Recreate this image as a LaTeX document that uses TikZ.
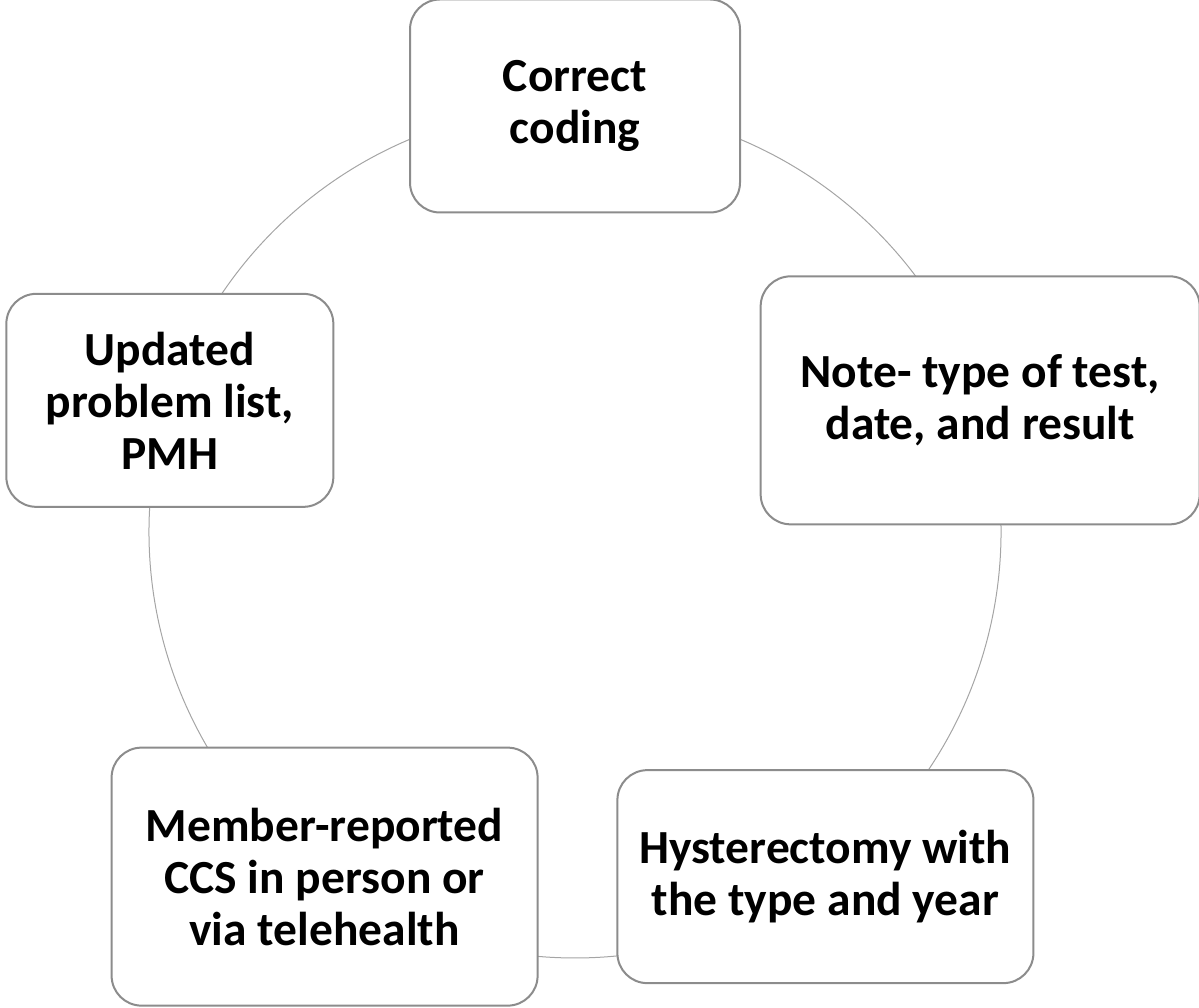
\documentclass[tikz,border=0pt]{standalone}
\usepackage{fontspec}
\setmainfont{Carlito}
\usetikzlibrary{calc}
\definecolor{boxgray}{RGB}{140,140,140}
\definecolor{arcgray}{RGB}{165,165,165}
\begin{document}
\begin{tikzpicture}[x=1pt,y=1pt,
  cyclebox/.style={draw=boxgray, line width=2pt, fill=white, rounded corners=30pt,
    inner sep=0pt, align=center, font=\fontsize{47.5}{52}\selectfont\bfseries},
  arcline/.style={draw=arcgray, line width=1pt}]
\useasboundingbox (0,0) rectangle (1199,1008);
\coordinate (ctr) at (575,476);
\coordinate (p1) at ($(ctr)+(90:426pt)$);
\coordinate (p2) at ($(ctr)+(18:426pt)$);
\coordinate (p3) at ($(ctr)+(-54:426pt)$);
\coordinate (p4) at ($(ctr)+(-126:426pt)$);
\coordinate (p5) at ($(ctr)+(162:426pt)$);
% connectors (arcs of the cycle)
\draw[arcline] (p1) arc[start angle=90, end angle=18, radius=426pt];
\draw[arcline] (p2) arc[start angle=18, end angle=-54, radius=426pt];
\draw[arcline] (p3) arc[start angle=-54, end angle=-126, radius=426pt];
\draw[arcline] (p4) arc[start angle=-126, end angle=-198, radius=426pt];
\draw[arcline] (p5) arc[start angle=162, end angle=90, radius=426pt];
% boxes
\node[cyclebox, minimum width=330pt, minimum height=213pt] (n1) at (p1) {Correct\\coding};
\node[cyclebox, minimum width=439pt, minimum height=248pt] (n2) at (p2) {Note- type of test,\\date, and result};
\node[cyclebox, minimum width=416pt, minimum height=213pt] (n3) at (p3) {Hysterectomy with\\the type and year};
\node[cyclebox, minimum width=426pt, minimum height=258pt] (n4) at (p4) {Member-reported\\CCS in person or\\via telehealth};
\node[cyclebox, minimum width=327pt, minimum height=213pt] (n5) at (p5) {Updated\\problem list,\\PMH};
\end{tikzpicture}
\end{document}
